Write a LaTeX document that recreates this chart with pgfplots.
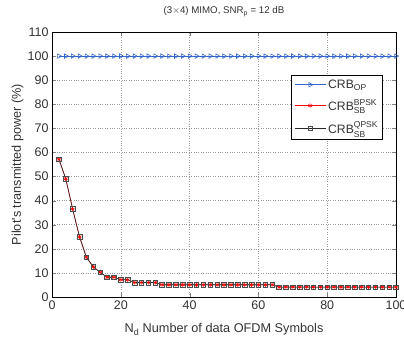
\documentclass[border=0pt]{standalone}
\usepackage{pgfplots}
\pgfplotsset{compat=1.18}
\usepackage{amsmath}
\usepackage{fontspec}
\setmainfont{Liberation Sans}
\definecolor{opblue}{rgb}{0.2,0.4,0.8}
\begin{document}
\begin{tikzpicture}[x=1pt,y=1pt]
\useasboundingbox (-52pt,-46pt) rectangle (352pt,297pt);
\begin{axis}[
  at={(0pt,0pt)}, anchor=south west,
  scale only axis,
  width=344pt, height=265pt,
  xmin=0, xmax=100, ymin=0, ymax=110,
  xtick={0,20,...,100}, ytick={0,10,...,110},
  tick align=inside, tick pos=both,
  major tick length=4pt,
  grid=major,
  major grid style={dotted, gray!80, line width=0.5pt},
  axis line style={black, line width=0.8pt},
  /pgf/number format/assume math mode=true,
  ticklabel style={font=\fontsize{12.5}{14}\selectfont, text=black!80},
  xlabel={N\textsubscript{d} Number of data OFDM Symbols},
  ylabel={Pilot\textquotesingle s transmitted power (\%)},
  label style={font=\fontsize{12.7}{14}\selectfont, text=black!80},
  xlabel style={at={(axis description cs:0.5,0)}, anchor=north, yshift=-23pt},
  ylabel style={at={(axis description cs:-0.0727,0.5)}, anchor=south},
  title={(3$\times$4) MIMO, SNR\textsubscript{p} = 12 dB},
  title style={font=\fontsize{9.7}{11}\selectfont, text=black!80, at={(axis description cs:0.5,1)}, anchor=south, yshift=6pt},
  legend style={at={(0.962,0.838)}, anchor=north east, font=\fontsize{12.2}{14}\selectfont, draw=black, line width=0.6pt, row sep=6pt, inner sep=2.5pt, text=black!80},
  legend cell align=left,
  legend image code/.code={\draw[mark repeat=2,mark phase=2] plot coordinates {(0cm,0cm)(0.55cm,0cm)(1.1cm,0cm)};},
]
\addplot[color=opblue, line width=0.6pt, mark=triangle, mark size=2.6pt, mark options={rotate=-90, solid}] coordinates {
(2,100)(4,100)(6,100)(8,100)(10,100)(12,100)(14,100)(16,100)(18,100)(20,100)
(22,100)(24,100)(26,100)(28,100)(30,100)(32,100)(34,100)(36,100)(38,100)(40,100)
(42,100)(44,100)(46,100)(48,100)(50,100)(52,100)(54,100)(56,100)(58,100)(60,100)
(62,100)(64,100)(66,100)(68,100)(70,100)(72,100)(74,100)(76,100)(78,100)(80,100)
(82,100)(84,100)(86,100)(88,100)(90,100)(92,100)(94,100)(96,100)(98,100)(100,100)};
\addlegendentry{CRB$_{\text{OP}}$}
\addplot[color=red, line width=0.6pt, mark=asterisk, mark size=2.2pt] coordinates {
(2,57.2)(4,49.1)(6,36.5)(8,25.0)(10,16.5)(12,12.5)(14,10.3)(16,8.2)(18,8.2)(20,7.2)
(22,7.2)(24,6.0)(26,6.0)(28,6.0)(30,6.0)(32,5.1)(34,5.1)(36,5.1)(38,5.1)(40,5.1)
(42,5.1)(44,5.1)(46,5.1)(48,5.1)(50,5.1)(52,5.1)(54,5.1)(56,5.1)(58,5.1)(60,5.1)
(62,5.1)(64,5.1)(66,4.1)(68,4.1)(70,4.1)(72,4.1)(74,4.1)(76,4.1)(78,4.1)(80,4.1)
(82,4.1)(84,4.1)(86,4.1)(88,4.1)(90,4.1)(92,4.1)(94,4.1)(96,4.1)(98,4.1)(100,4.1)};
\addlegendentry{CRB$^{\text{BPSK}}_{\text{SB}}$}
\addplot[color=black!85, line width=0.6pt, mark=square, mark size=2.3pt, mark options={black!70}] coordinates {
(2,57.2)(4,49.1)(6,36.5)(8,25.0)(10,16.5)(12,12.5)(14,10.3)(16,8.2)(18,8.2)(20,7.2)
(22,7.2)(24,6.0)(26,6.0)(28,6.0)(30,6.0)(32,5.1)(34,5.1)(36,5.1)(38,5.1)(40,5.1)
(42,5.1)(44,5.1)(46,5.1)(48,5.1)(50,5.1)(52,5.1)(54,5.1)(56,5.1)(58,5.1)(60,5.1)
(62,5.1)(64,5.1)(66,4.1)(68,4.1)(70,4.1)(72,4.1)(74,4.1)(76,4.1)(78,4.1)(80,4.1)
(82,4.1)(84,4.1)(86,4.1)(88,4.1)(90,4.1)(92,4.1)(94,4.1)(96,4.1)(98,4.1)(100,4.1)};
\addlegendentry{CRB$^{\text{QPSK}}_{\text{SB}}$}
\end{axis}
\end{tikzpicture}
\end{document}
